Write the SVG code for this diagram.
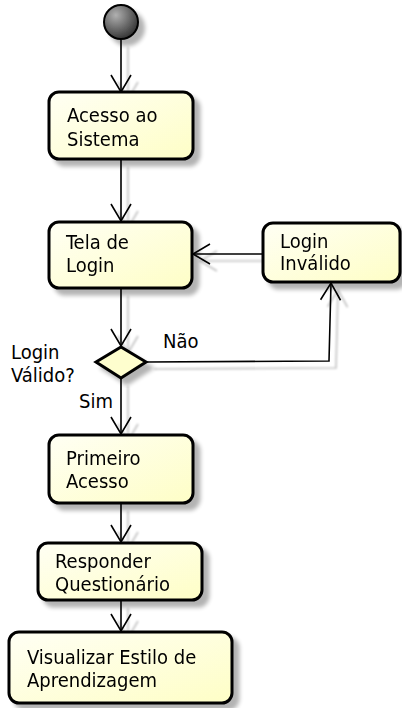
<svg xmlns="http://www.w3.org/2000/svg" width="402" height="708" viewBox="0 0 402 708">
<defs>
<style>
.box{fill:url(#bg);stroke:#000;stroke-width:3}
.dia{fill:#FEFECE;stroke:#000;stroke-width:3}
.t{font-family:"DejaVu Sans Condensed","DejaVu Sans",sans-serif;font-stretch:condensed;font-size:20px;fill:#000}
.ln{fill:none;stroke:#000;stroke-width:1.6}
</style>
<linearGradient id="bg" x1="0" y1="0" x2="1" y2="1">
<stop offset="0" stop-color="#FFFFF4"/>
<stop offset="1" stop-color="#FEFEC6"/>
</linearGradient>
<radialGradient id="cg" cx="0.35" cy="0.3" r="0.75">
<stop offset="0" stop-color="#B0B0B0"/>
<stop offset="1" stop-color="#303030"/>
</radialGradient>
<filter id="sh" x="-20%" y="-20%" width="150%" height="150%">
<feGaussianBlur in="SourceAlpha" stdDeviation="2"/>
<feOffset dx="6" dy="6" result="o"/>
<feComponentTransfer in="o" result="s"><feFuncA type="linear" slope="0.3"/></feComponentTransfer>
<feMerge><feMergeNode in="s"/><feMergeNode in="SourceGraphic"/></feMerge>
</filter>
<filter id="lsh" x="-20%" y="-20%" width="150%" height="150%">
<feGaussianBlur in="SourceAlpha" stdDeviation="1"/>
<feOffset dx="7" dy="7" result="o"/>
<feComponentTransfer in="o" result="s"><feFuncA type="linear" slope="0.25"/></feComponentTransfer>
<feMerge><feMergeNode in="s"/><feMergeNode in="SourceGraphic"/></feMerge>
</filter>
<marker id="ah" markerUnits="userSpaceOnUse" markerWidth="24" markerHeight="24" viewBox="-20 -12 24 24" refX="0" refY="0" orient="auto" overflow="visible">
<path d="M -17 -10 L 0 0 L -17 10" fill="none" stroke="#000" stroke-width="1.6"/>
</marker>
</defs>
<rect width="402" height="708" fill="#fff"/>

<g id="connectors" filter="url(#lsh)">
<line class="ln" x1="121" y1="40" x2="121" y2="92" marker-end="url(#ah)"/>
<line class="ln" x1="121" y1="160" x2="121" y2="221" marker-end="url(#ah)"/>
<line class="ln" x1="121" y1="289" x2="121" y2="346" marker-end="url(#ah)"/>
<line class="ln" x1="121" y1="379" x2="121" y2="434" marker-end="url(#ah)"/>
<line class="ln" x1="121" y1="504" x2="121" y2="542" marker-end="url(#ah)"/>
<line class="ln" x1="121" y1="601" x2="121" y2="631" marker-end="url(#ah)"/>
<line class="ln" x1="262" y1="254" x2="193" y2="254" marker-end="url(#ah)"/>
<polyline class="ln" points="147,362 329,361 331,283" marker-end="url(#ah)"/>
</g>

<g id="start" filter="url(#sh)">
<circle cx="121" cy="22" r="17" fill="url(#cg)" stroke="#000" stroke-width="2"/>
</g>

<g id="acesso" filter="url(#sh)">
<rect class="box" x="49" y="92" width="144" height="67" rx="10"/>
<text class="t" x="67" y="122">Acesso ao</text>
<text class="t" x="67" y="146">Sistema</text>
</g>

<g id="tela" filter="url(#sh)">
<rect class="box" x="49" y="222" width="143" height="66" rx="10"/>
<text class="t" x="66" y="249">Tela de</text>
<text class="t" x="66" y="272">Login</text>
</g>

<g id="invalido" filter="url(#sh)">
<rect class="box" x="263" y="223" width="137" height="59" rx="10"/>
<text class="t" x="280" y="248">Login</text>
<text class="t" x="280" y="270">Inválido</text>
</g>

<g id="decisao" filter="url(#sh)">
<polygon class="dia" points="96,362 121,347 146,362 121,378"/>
</g>
<text class="t" x="11" y="359">Login</text>
<text class="t" x="11" y="382">Válido?</text>
<text class="t" x="163" y="348">Não</text>
<text class="t" x="79" y="408">Sim</text>

<g id="primeiro" filter="url(#sh)">
<rect class="box" x="49" y="435" width="144" height="68" rx="10"/>
<text class="t" x="66" y="465">Primeiro</text>
<text class="t" x="66" y="488">Acesso</text>
</g>

<g id="responder" filter="url(#sh)">
<rect class="box" x="38" y="543" width="164" height="57" rx="10"/>
<text class="t" x="55" y="568">Responder</text>
<text class="t" x="55" y="591">Questionário</text>
</g>

<g id="visualizar" filter="url(#sh)">
<rect class="box" x="9" y="632" width="223" height="71" rx="10"/>
<text class="t" x="27" y="664">Visualizar Estilo de</text>
<text class="t" x="27" y="687">Aprendizagem</text>
</g>
</svg>
